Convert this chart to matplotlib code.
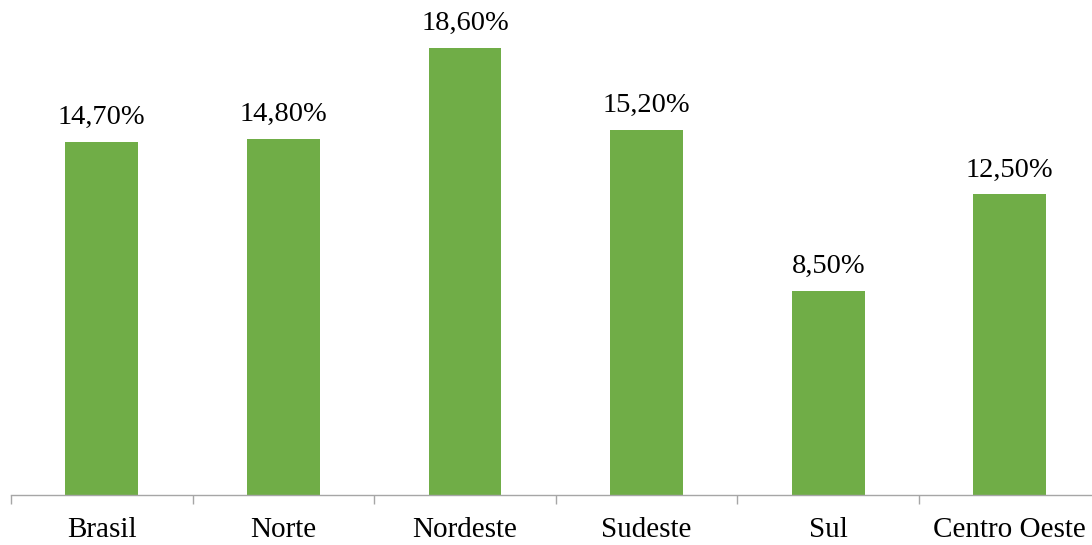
import matplotlib.pyplot as plt
import numpy as np

# dados
regioes = ['Brasil', 'Norte', 'Nordeste', 'Sudeste', 'Sul', 'Centro Oeste']
valores = [14.7, 14.8, 18.6, 15.2, 8.5, 12.5]
rotulos = ['14,70%', '14,80%', '18,60%', '15,20%', '8,50%', '12,50%']

plt.rcParams['font.family'] = ['Liberation Serif', 'DejaVu Serif']

fig = plt.figure(figsize=(10.92, 5.45), dpi=100)
ax = fig.add_axes([11 / 1092, 0.0923, 1089.6 / 1092, 0.8815])

x = np.arange(len(regioes))
bars = ax.bar(x, valores, width=0.4, color='#70AD47')

for b, txt in zip(bars, rotulos):
    ax.annotate(txt, (b.get_x() + b.get_width() / 2, b.get_height()),
                xytext=(0, 8.5), textcoords='offset points',
                ha='center', va='bottom', fontsize=20.5, color='black')

ax.set_xlim(-0.5, len(regioes) - 0.5)
ax.set_ylim(0, 20)

ax.set_xticks(x)
ax.set_xticklabels(regioes, fontsize=21)
ax.tick_params(axis='x', which='major', length=0, pad=16)
ax.set_xticks(np.arange(-0.5, len(regioes), 1), minor=True)
ax.tick_params(axis='x', which='minor', length=6.5, width=1, color='#A6A6A6')

ax.set_yticks([])
for s in ['top', 'right', 'left']:
    ax.spines[s].set_visible(False)
ax.spines['bottom'].set_color('#A6A6A6')
ax.spines['bottom'].set_linewidth(1)

fig.savefig('out.png', dpi=100)
